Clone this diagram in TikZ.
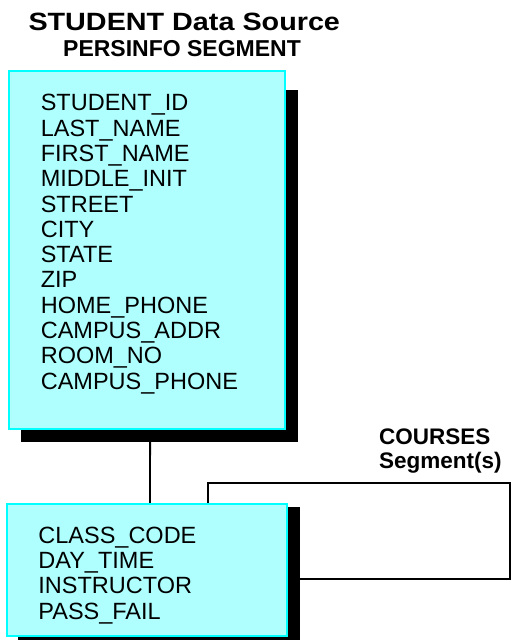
\documentclass[tikz,border=0pt]{standalone}
\usepackage{fontspec}
\setmainfont{Liberation Sans}
\newfontfamily\titlefont[FakeStretch=1.15]{Liberation Sans}
\usetikzlibrary{backgrounds}
\definecolor{boxfill}{RGB}{176,255,255}
\definecolor{boxline}{RGB}{0,255,255}
\tikzset{
  segbox/.style={draw=boxline, fill=boxfill, line width=2pt, inner sep=0pt, rectangle},
  fields/.style={inner sep=0pt, anchor=north west, align=left,
    font=\fontsize{23.5}{25.3}\selectfont},
  shadowbox/.style={fill=black, draw=none},
  conn/.style={draw=black, line width=1.8pt},
  heading/.style={inner sep=0pt, font=\bfseries\fontsize{23}{23.3}\selectfont}
}
\begin{document}
\begin{tikzpicture}[x=1pt, y=-1pt]
\useasboundingbox (0,0) rectangle (511,640);

% titles
\node[inner sep=0pt, anchor=base west, font=\titlefont\bfseries\fontsize{25}{26}\selectfont] (title) at (28.3,30.5) {STUDENT Data Source};
\node[heading, anchor=base west] (subtitle) at (63,56.7) {PERSINFO SEGMENT};

% boxes
\node[segbox, minimum width=275.7pt, minimum height=358.5pt] (persinfo) at (147.15,249.75) {};
\node[segbox, minimum width=280.6pt, minimum height=131.4pt] (courses) at (147,570) {};

\node[fields] (persinfoFields) at (40.6,94.2) {STUDENT\_ID\\LAST\_NAME\\FIRST\_NAME\\MIDDLE\_INIT\\STREET\\CITY\\STATE\\ZIP\\HOME\_PHONE\\CAMPUS\_ADDR\\ROOM\_NO\\CAMPUS\_PHONE};
\node[fields] (coursesFields) at (38.2,526.5) {CLASS\_CODE\\DAY\_TIME\\INSTRUCTOR\\PASS\_FAIL};

% label
\node[heading, anchor=north west, align=left, font=\bfseries\fontsize{22.5}{23.3}\selectfont] (coursesLabel) at (379,428.9) {COURSES\\Segment(s)};

\coordinate (loopTR) at (510,483.3);

\begin{pgfonlayer}{background}
  \draw[conn] ([xshift=3pt]persinfo.south) -- ([xshift=3pt]courses.north);
  \draw[conn] ([xshift=61.3pt]courses.north) |- (loopTR) |- ([yshift=-9.3pt]courses.east);
  \path[shadowbox] (21,90) rectangle (297.5,442);
  \path[shadowbox] (18.3,506.7) rectangle (300,640);
\end{pgfonlayer}
\end{tikzpicture}
\end{document}
